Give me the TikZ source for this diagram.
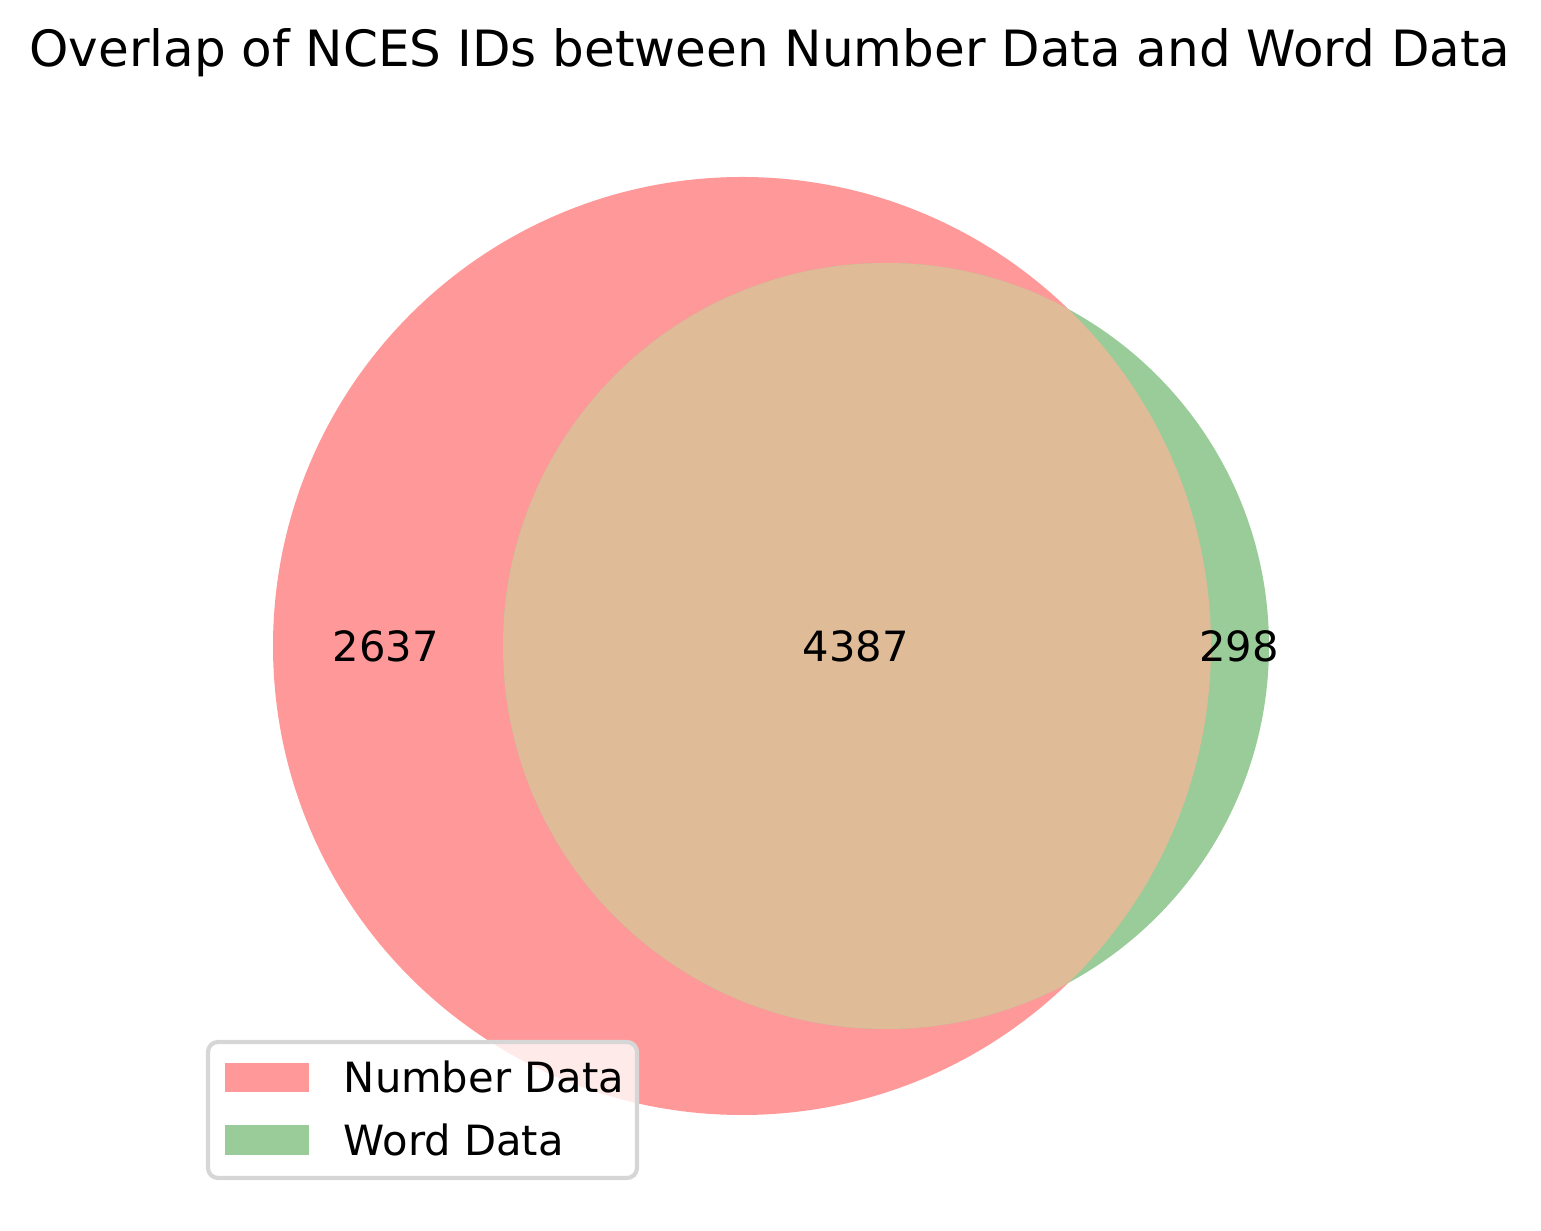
\documentclass[tikz,border=0pt]{standalone}
\usepackage{fontspec}
\setmainfont{DejaVu Sans}
\definecolor{numred}{RGB}{255,153,153}
\definecolor{wordgreen}{RGB}{153,204,153}
\definecolor{overlapc}{RGB}{224,187,151}
\definecolor{legedge}{RGB}{214,214,214}
\begin{document}
\begin{tikzpicture}[x=0.24pt,y=-0.24pt,
  lbl/.style={font=\fontsize{10}{12}\selectfont, inner sep=0pt},
  ttl/.style={font=\fontsize{12}{14}\selectfont, inner sep=0pt},
  patch/.style={draw=none}]
\useasboundingbox (0,0) rectangle (1541,1231);
% circles
\fill[numred] (742,646) circle[radius=469];
\fill[wordgreen] (886,646) circle[radius=383];
\begin{scope}
  \clip (742,646) circle[radius=469];
  \fill[overlapc] (886,646) circle[radius=383];
\end{scope}
% title
\node[ttl, anchor=base] (title) at (770,67) {Overlap of NCES IDs between Number Data and Word Data};
% region labels
\node[lbl] (a) at (386,646) {2637};
\node[lbl] (ab) at (856,646) {4387};
\node[lbl] (b) at (1239,646) {298};
% legend
\draw[legedge, line width=1pt, fill=white, fill opacity=0.8, rounded corners=2.4pt] (208,1042) rectangle (637,1178);
\fill[numred] (225,1063) rectangle (309,1092);
\fill[wordgreen] (225,1125) rectangle (309,1155);
\node[lbl, anchor=base west] (l1) at (343,1093) {Number Data};
\node[lbl, anchor=base west] (l2) at (343,1156) {Word Data};
\end{tikzpicture}
\end{document}
